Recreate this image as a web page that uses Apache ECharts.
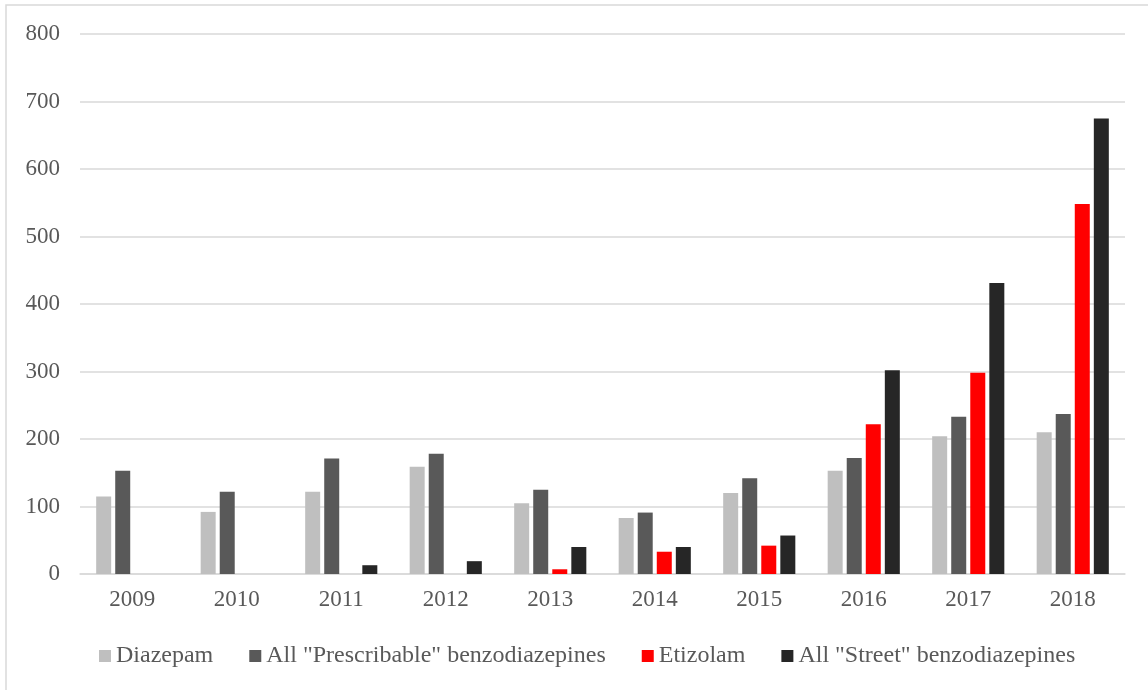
<!DOCTYPE html>
<html>
<head>
<meta charset="utf-8">
<script src="https://cdn.jsdelivr.net/npm/echarts@6/dist/echarts.min.js"></script>
<style>
  html, body { margin: 0; padding: 0; background: #ffffff; }
  #chart { width: 1148px; height: 690px; }
</style>
</head>
<body>
<div id="chart"></div>
<script>
// Benzodiazepine-related counts by year
const years = ['2009', '2010', '2011', '2012', '2013', '2014', '2015', '2016', '2017', '2018'];
const diazepam = [115, 92, 122, 159, 105, 83, 120, 153, 204, 210];
const prescribable = [153, 122, 171, 178, 125, 91, 142, 172, 233, 237];
const etizolam = [0, 0, 0, 0, 7, 33, 42, 222, 298, 548];
const street = [0, 0, 13, 19, 40, 40, 57, 302, 431, 675];
const yTicks = [0, 100, 200, 300, 400, 500, 600, 700, 800];

const textColor = '#595959';
const gridColor = '#D9D9D9';
const fontFamily = '"Liberation Serif", "Times New Roman", serif';

const chart = echarts.init(document.getElementById('chart'), null, { renderer: 'canvas' });

function barSeries(name, data, color) {
  return {
    name: name,
    type: 'bar',
    data: data,
    barWidth: 15,
    barGap: '27%',
    itemStyle: { color: color },
    emphasis: { disabled: true }
  };
}

chart.setOption({
  animation: false,
  backgroundColor: '#ffffff',
  textStyle: { fontFamily: fontFamily, color: textColor },
  graphic: [{
    type: 'rect',
    shape: { x: 6, y: 5, width: 1170, height: 720 },
    style: { fill: 'none', stroke: gridColor, lineWidth: 1.5 },
    silent: true
  }],
  grid: { left: 80, right: 23, top: 34, bottom: 116, containLabel: false },
  legend: {
    left: 94,
    top: 639,
    icon: 'rect',
    itemWidth: 12,
    itemHeight: 12,
    itemGap: 36,
    textStyle: { fontFamily: fontFamily, color: textColor, fontSize: 24 },
    data: ['Diazepam', 'All "Prescribable" benzodiazepines', 'Etizolam', 'All "Street" benzodiazepines']
  },
  xAxis: {
    type: 'category',
    data: years,
    axisLine: { lineStyle: { color: gridColor, width: 1.5 } },
    axisTick: { show: false },
    axisLabel: { color: textColor, fontFamily: fontFamily, fontSize: 23, margin: 14 }
  },
  yAxis: {
    type: 'value',
    min: yTicks[0],
    max: yTicks[yTicks.length - 1],
    interval: yTicks[1] - yTicks[0],
    axisLine: { show: false },
    axisTick: { show: false },
    splitLine: { lineStyle: { color: gridColor, width: 1.5 } },
    axisLabel: { color: textColor, fontFamily: fontFamily, fontSize: 23, margin: 20 }
  },
  series: [
    barSeries('Diazepam', diazepam, '#BFBFBF'),
    barSeries('All "Prescribable" benzodiazepines', prescribable, '#595959'),
    barSeries('Etizolam', etizolam, '#FF0000'),
    barSeries('All "Street" benzodiazepines', street, '#262626')
  ]
});
</script>
</body>
</html>
